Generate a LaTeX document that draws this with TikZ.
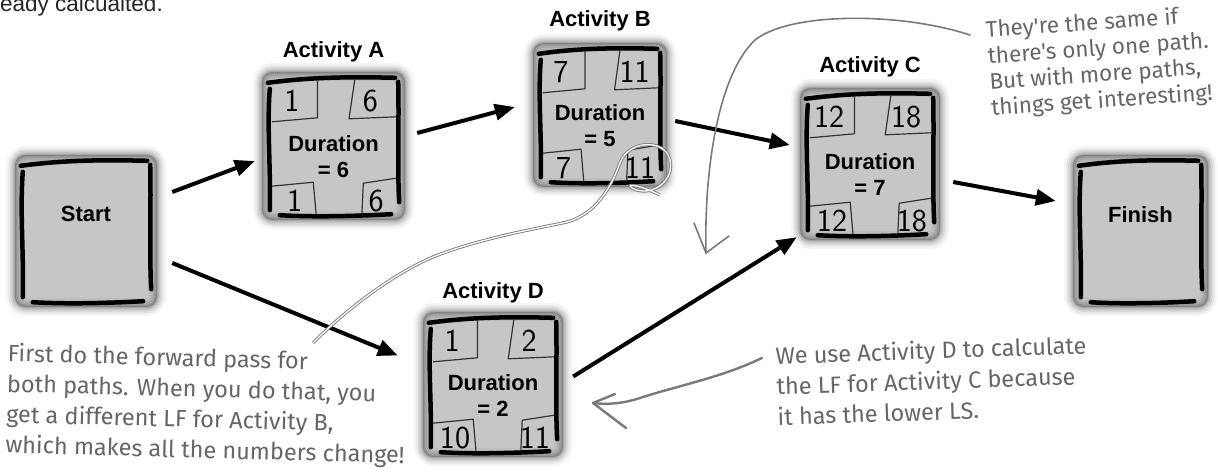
\documentclass[tikz,border=0pt]{standalone}
\usepackage{fontspec}
\setmainfont{Liberation Sans}
\newfontfamily\handfont{Fira Sans}
\usetikzlibrary{calc,arrows.meta}
\definecolor{cardfill}{HTML}{C6C6C6}
\definecolor{notegray}{HTML}{666666}
\definecolor{linegray}{HTML}{7A7A7A}
\tikzset{
  card/.style={rectangle, inner sep=0pt, fill=cardfill, rounded corners=10pt},
  inkline/.style={black, line width=4.5pt, line cap=round},
  cellline/.style={black!80, line width=1.2pt, line join=round},
  num/.style={font=\sffamily\fontsize{32}{32}\selectfont, inner sep=0pt},
  boxtitle/.style={font=\bfseries\fontsize{22}{22}\selectfont, inner sep=0pt},
  durtext/.style={font=\bfseries\fontsize{22}{22}\selectfont, inner sep=0pt},
  flow/.style={line width=4pt, -{Triangle[length=20pt,width=16pt]}},
  note/.style={font=\handfont\fontsize{23.5}{30.5}\selectfont, text=notegray, align=left, inner sep=0pt},
  smallnote/.style={font=\handfont\fontsize{22.5}{26}\selectfont, text=notegray, align=left, inner sep=0pt},
  pointer/.style={linegray, line width=1.6pt, line cap=round, line join=round},
  dblpointer/.style={draw=linegray, line width=0.9pt, double=white, double distance=1.3pt},
}
\newcommand\card[5]{%
  \node[card, minimum width=#4pt, minimum height=#5pt] (#1) at (#2,#3) {};
  \foreach \lw/\op in {18/0.04, 13/0.06, 9/0.08, 5/0.10, 2/0.10}
    \draw[black, opacity=\op, line width=\lw pt, rounded corners=11pt] (#1.north west) rectangle (#1.south east);
  \draw[inkline] ($(#1.north west)+(8,17)$) .. controls ($(#1.west)+(5,-20)$) and ($(#1.west)+(9,20)$) .. ($(#1.south west)+(8,-10)$);
  \draw[inkline] ($(#1.north east)+(-7,10)$) .. controls ($(#1.east)+(-6,-20)$) and ($(#1.east)+(-8,20)$) .. ($(#1.south east)+(-6,-18)$);
  \draw[inkline] ($(#1.north west)+(6,11)$) .. controls ($(#1.north)+(-20,5)$) and ($(#1.north)+(20,5)$) .. ($(#1.north east)+(-10,6)$);
  \draw[inkline] ($(#1.south west)+(18,-5)$) .. controls ($(#1.south)+(-20,-3)$) and ($(#1.south)+(20,-4)$) .. ($(#1.south east)+(-14,-6)$);
}
\newcommand\cells[7]{% name, w, h, ES, EF, LS, LF
  \draw[cellline] ($(#1.north west)+({0.39*#2},8)$) -- ($(#1.north west)+({0.39*#2},46)$) -- ($(#1.north west)+(10,50)$);
  \draw[cellline] ($(#1.north west)+({0.65*#2},8)$) -- ($(#1.north west)+({0.61*#2},47)$) -- ($(#1.north east)+(-9,45)$);
  \draw[cellline] ($(#1.south west)+(10,-34)$) -- ($(#1.south west)+({0.36*#2},-38)$) -- ($(#1.south west)+({0.38*#2},-6)$);
  \draw[cellline] ($(#1.south east)+(-9,-42)$) -- ($(#1.south west)+({0.71*#2},-37)$) -- ($(#1.south west)+({0.70*#2},-6)$);
  \node[num] (#1-es) at ($(#1.north west)+({0.21*#2},29)$) {#4};
  \node[num] (#1-ef) at ($(#1.north west)+({0.76*#2},29)$) {#5};
  \node[num] (#1-ls) at ($(#1.south west)+({0.23*#2},-19)$) {#6};
  \node[num] (#1-lf) at ($(#1.south west)+({0.80*#2},-19)$) {#7};
}
\newcommand\durlabel[2]{%
  \node[durtext] (#1-d1) at ($(#1.center)+(0,-2)$) {Duration};
  \node[durtext] (#1-d2) at ($(#1.center)+(0,24)$) {= #2};
}
\begin{document}
\begin{tikzpicture}[x=1pt,y=-1pt]
\useasboundingbox (0,0) rectangle (1218,473);
\fill[white] (0,0) rectangle (1218,473);

% top-left fragment
\node[font=\fontsize{22.5}{22.5}\selectfont, text=black!85, anchor=base west, inner sep=0pt] (n0) at (0,12) {eady calcualted.};

% boxes
\card{start}{86}{231}{142}{152}
\node[durtext] (start-l) at ($(start.center)+(0,-17)$) {Start};
\card{finish}{1140.5}{231}{135}{152}
\node[durtext] (finish-l) at ($(finish.center)+(0,-16)$) {Finish};

\card{a}{333.5}{146}{143}{148}
\cells{a}{143}{148}{1}{6}{1}{6}
\durlabel{a}{6}
\node[boxtitle] (ta) at ($(a.north)+(0,-20)$) {Activity A};

\card{b}{600}{115}{134}{144}
\cells{b}{134}{144}{7}{11}{7}{11}
\durlabel{b}{5}
\node[boxtitle] (tb) at ($(b.north)+(0,-22)$) {Activity B};

\card{c}{870}{164}{140}{152}
\cells{c}{140}{152}{12}{18}{12}{18}
\durlabel{c}{7}
\node[boxtitle] (tc) at ($(c.north)+(0,-21)$) {Activity C};

\card{d}{493}{384.5}{140}{145}
\cells{d}{140}{145}{1}{2}{10}{11}
\durlabel{d}{2}
\node[boxtitle] (td) at ($(d.north)+(0,-19)$) {Activity D};

% flow arrows
\draw[flow] ($(start.east)+(15,-39)$) -- ($(a.west)+(-7,15)$);
\draw[flow] ($(a.east)+(12,-13)$) -- ($(b.west)+(-18,-8)$);
\draw[flow] ($(b.east)+(8,6)$) -- ($(c.west)+(-10,-19)$);
\draw[flow] ($(c.east)+(13,18)$) -- ($(finish.west)+(-17,-30)$);
\draw[flow] ($(start.east)+(15,32)$) -- ($(d.west)+(-25,-29)$);
\draw[flow] ($(d.east)+(10,-8)$) -- ($(c.south west)+(-3,-3)$);

% notes
\node[note, anchor=north west, rotate=-1.5] (n1) at (8,343) {First do the forward pass for\\both paths. When you do that, you\\get a different LF for Activity B,\\which makes all the numbers change!};
\node[note, anchor=north west, rotate=2] (n2) at (775,346) {We use Activity D to calculate\\the LF for Activity C because\\it has the lower LS.};
\node[smallnote, anchor=north west, rotate=4] (n3) at (985,20) {They're the same if\\there's only one path.\\But with more paths,\\things get interesting!};

% pointers
\coordinate (p1s) at (313,343);
\draw[dblpointer] (p1s) .. controls (340,315) and (390,275) .. (433,257)
  .. controls (480,238) and (540,228) .. (567,222)
  .. controls (595,214) and (610,190) .. (620,163)
  .. controls (628,140) and (665,138) .. (670,160)
  .. controls (675,182) and (650,198) .. (632,188)
  .. controls (625,183) and (640,185) .. (660,195);

\coordinate (p2s) at (970,35);
\coordinate (p2e) at (706,253);
\draw[pointer] (p2s) .. controls (900,12) and (790,12) .. (755,40) .. controls (718,75) and (704,170) .. (p2e);
\draw[pointer] (694,223) -- (p2e) -- (729,236);

\coordinate (p3s) at (762,358);
\coordinate (p3e) at (593,403);
\draw[pointer, line width=2.4pt] (p3s) .. controls (720,378) and (680,385) .. (640,398) .. controls (625,403) and (610,405) .. (p3e);
\draw[pointer, line width=2.4pt] (615,394) -- (p3e) -- (626,428);
\end{tikzpicture}
\end{document}
